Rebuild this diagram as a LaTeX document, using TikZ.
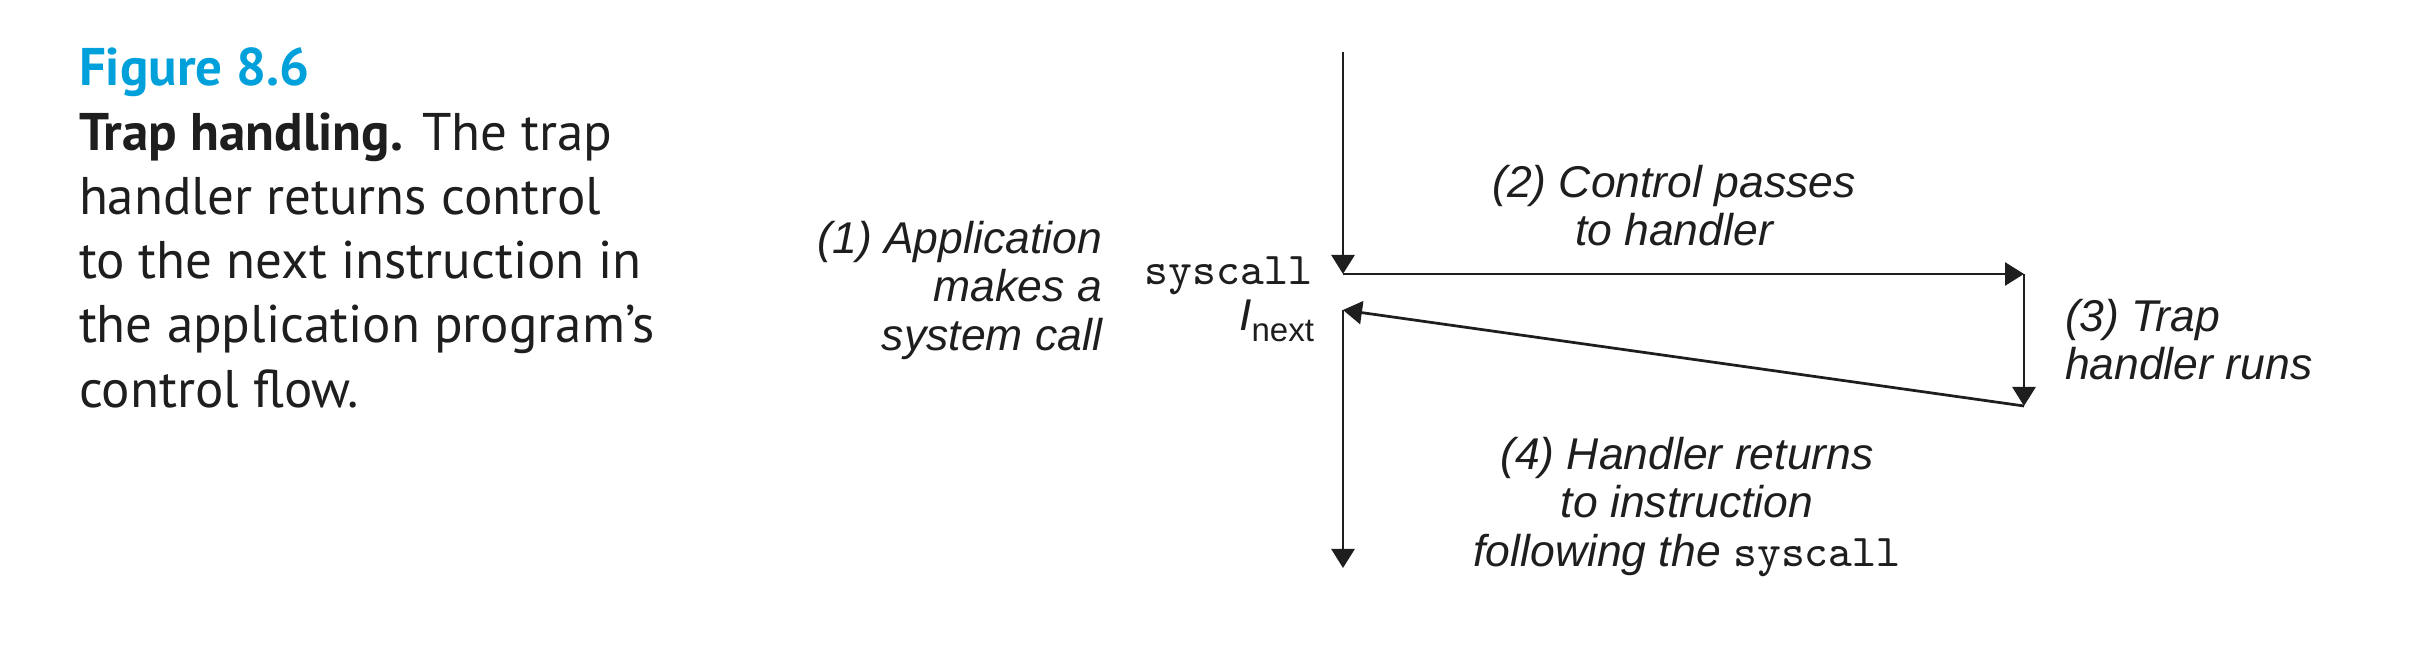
\documentclass[tikz,border=0pt]{standalone}
\usepackage{fontspec}
\usetikzlibrary{arrows.meta}
\newfontfamily\capfont{PT Sans}
\newfontfamily\lblfont{Liberation Sans}
\definecolor{figblue}{RGB}{0,160,218}
\definecolor{ink}{RGB}{30,30,30}
\begin{document}
\begin{tikzpicture}[x=0.2pt,y=-0.2pt,
  flow/.style={draw=ink, line width=0.55pt, -{Triangle[length=3.8pt,width=4.6pt]}},
  lbl/.style={inner sep=0, text=ink, font=\lblfont\itshape\fontsize{8.9pt}{9.7pt}\selectfont}]
\useasboundingbox (0,0) rectangle (2418,662);
% caption
\node[anchor=north west, inner sep=0, align=left, text=ink,
  font=\capfont\fontsize{10.6pt}{12.85pt}\selectfont] (cap) at (78,47)
  {{\bfseries\color{figblue}Figure 8.6}\\
   \textbf{Trap handling.} The trap\\
   handler returns control\\
   to the next instruction in\\
   the application program’s\\
   control flow.};
% control flow
\coordinate (start) at (1343,52);
\coordinate (call) at (1343,274);
\coordinate (entry) at (2024,274);
\coordinate (exit) at (2024,406);
\coordinate (resume) at (1343,310);
\coordinate (finish) at (1343,568);
\draw[flow] (start) -- (call);
\draw[flow] (call) -- (entry);
\draw[flow] (entry) -- (exit);
\draw[flow] (exit) -- (resume);
\draw[flow] (resume) -- (finish);
% labels
\node[lbl, anchor=base east] (sys) at (1313,285) {\upshape\ttfamily\fontsize{9.1pt}{9pt}\selectfont syscall};
\node[lbl, anchor=base east] (inext) at (1315,331) {I\raisebox{-2.2pt}{\upshape\fontsize{6.6pt}{7pt}\selectfont next}};
\node[lbl, anchor=north east, align=right] (step1) at (1103,220) {(1) Application\\ makes a\\ system call};
\node[lbl, anchor=north, align=center] (step2) at (1674,164) {(2) Control passes\\ to handler};
\node[lbl, anchor=north west, align=left] (step3) at (2064,298) {(3) Trap\\ handler runs};
\node[lbl, anchor=north, align=center] (step4) at (1687,436) {(4) Handler returns\\ to instruction\\ following the {\upshape\ttfamily\fontsize{9.1pt}{9pt}\selectfont syscall}};
\end{tikzpicture}
\end{document}
